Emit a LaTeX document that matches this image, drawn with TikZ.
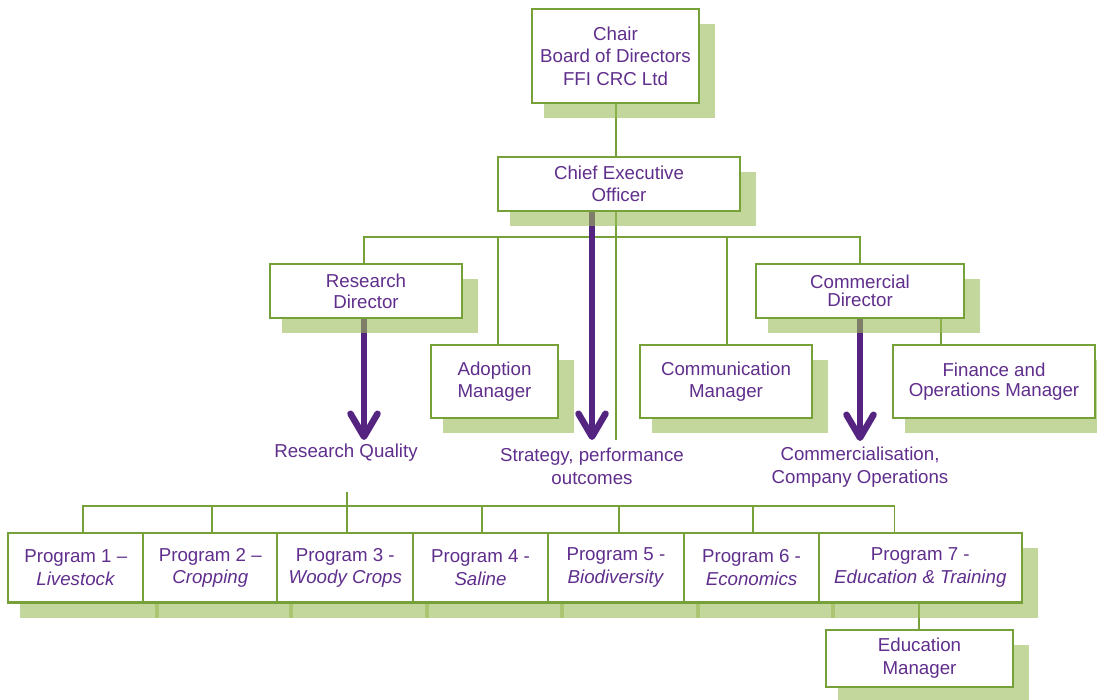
\documentclass[tikz,border=0pt]{standalone}
\usepackage{fontspec}
\setmainfont{Liberation Sans}
\usetikzlibrary{arrows.meta,calc}
\definecolor{boxgreen}{RGB}{118,160,56}
\definecolor{shadgreen}{RGB}{155,187,89}
\definecolor{txtpurple}{RGB}{96,46,140}
\definecolor{arrpurple}{RGB}{84,36,128}
\pgfdeclarelayer{bg}
\pgfdeclarelayer{shad}
\pgfsetlayers{bg,shad,main}
\newcommand\orgfont{\fontsize{18.7}{22.5}\selectfont}
\tikzset{
  orgbox/.style={draw=boxgreen, line width=2.2pt, fill=white, text=txtpurple, align=center,
    inner sep=0pt, outer sep=0pt, font=\orgfont},
  lbl/.style={text=txtpurple, align=center, inner sep=0pt, font=\orgfont},
  conn/.style={draw=boxgreen, line width=1.7pt},
  bigarrow/.style={draw=arrpurple, line width=6.5pt, -{Straight Barb[length=23pt,width=27pt,round]}},
  shadowfill/.style={fill=shadgreen, fill opacity=0.6},
  progbox/.style={orgbox, minimum height=69.5pt},
}
\newcommand\shadowof[1]{\fill[shadowfill] ($(#1.south west)+(12,15)$) rectangle ($(#1.north east)+(16,15)$);}
\begin{document}
\begin{tikzpicture}[x=1pt,y=-1pt]
\useasboundingbox (0,0) rectangle (1097,700);
% boxes
\node[orgbox, minimum width=167.5pt, minimum height=94pt] (chair) at (615.5,56) {Chair\\Board of Directors\\FFI CRC Ltd};
\node[orgbox, minimum width=242pt, minimum height=54pt] (ceo) at (619,184) {Chief Executive\\Officer};
\node[orgbox, minimum width=192pt, minimum height=54pt, font=\fontsize{18.7}{21}\selectfont] (resdir) at (366,291) {Research\\Director};
\node[orgbox, minimum width=127pt, minimum height=73pt] (adopt) at (494.5,381.5) {Adoption\\Manager};
\node[orgbox, minimum width=172pt, minimum height=73pt] (comm) at (726,381.5) {Communication\\Manager};
\node[orgbox, minimum width=208pt, minimum height=54pt, font=\fontsize{18.7}{18.5}\selectfont] (comdir) at (860,291) {Commercial\\Director};
\node[orgbox, minimum width=202pt, minimum height=73pt, font=\fontsize{18.7}{19.5}\selectfont] (fin) at (994,381.5) {Finance and\\Operations Manager};
\node[progbox, minimum width=135pt] (p1) at (75.8,567.75) {Program 1 –\\\textit{Livestock}};
\node[progbox, minimum width=134pt] (p2) at (210.3,567.75) {Program 2 –\\\textit{Cropping}};
\node[progbox, minimum width=136pt] (p3) at (345.3,567.75) {Program 3 -\\\textit{Woody Crops}};
\node[progbox, minimum width=134.4pt] (p4) at (480.5,567.75) {Program 4 -\\\textit{Saline}};
\node[progbox, minimum width=136.3pt] (p5) at (615.9,567.75) {Program 5 -\\\textit{Biodiversity}};
\node[progbox, minimum width=135pt] (p6) at (751.5,567.75) {Program 6 -\\\textit{Economics}};
\node[progbox, minimum width=202.7pt] (p7) at (920.3,567.75) {Program 7 -\\\textit{Education \& Training}};
\node[orgbox, minimum width=187.6pt, minimum height=56.7pt] (edu) at (919.5,658.3) {Education\\Manager};
% labels
\node[lbl] (rq) at (346,453) {Research Quality};
\node[lbl] (strat) at (592,466.5) {Strategy, performance\\outcomes};
\node[lbl] (comq) at (860,467) {Commercialisation,\\Company Operations};
% coordinates
\coordinate (rqtip) at (364,440);
\coordinate (sttip) at (592,440);
\coordinate (cotip) at (860,441);
\coordinate (ceoline) at (616,440);
\coordinate (busA) at (0,237);
\coordinate (adx) at (498,0);
\coordinate (comx) at (727,0);
\coordinate (finx) at (941,0);
\coordinate (rqbot) at (346.7,492);
\coordinate (v1) at (83.3,506);
\coordinate (v2) at (212,506);
\coordinate (v3) at (346.7,506);
\coordinate (v4) at (482.3,506);
\coordinate (v5) at (619,506);
\coordinate (v6) at (752.7,506);
\coordinate (v7) at (894.6,506);
\coordinate (edux) at (919.3,0);
\begin{pgfonlayer}{bg}
\fill[white] (0,0) rectangle (1097,700);
\draw[conn] (chair.south -| ceoline) -- (ceoline);
\draw[conn] (rqtip |- resdir.north) -- (rqtip |- busA) -- (comdir.north |- busA) -- (comdir.north);
\draw[conn] (adx |- busA) -- (adx |- adopt.north);
\draw[conn] (comx |- busA) -- (comx |- comm.north);
\draw[conn] (finx |- comdir.south) -- (finx |- fin.north);
\draw[conn] (rqbot) -- (v3);
\draw[conn] (v1 |- p1.north) -- (v1) -- (v7) -- (v7 |- p7.north);
\foreach \i in {2,...,6} { \draw[conn] (v\i) -- (v\i |- p\i.north); }
\draw[conn] (edux |- p7.south) -- (edux |- edu.north);
\draw[bigarrow] (rqtip |- resdir.south) -- (rqtip);
\draw[bigarrow] (sttip |- ceo.south) -- (sttip);
\draw[bigarrow] (cotip |- comdir.south) -- (cotip);
\end{pgfonlayer}
\begin{pgfonlayer}{shad}
\foreach \n in {chair,ceo,resdir,adopt,comm,comdir,fin,p1,p2,p3,p4,p5,p6,p7,edu} { \shadowof{\n} }
\end{pgfonlayer}
\end{tikzpicture}
\end{document}
